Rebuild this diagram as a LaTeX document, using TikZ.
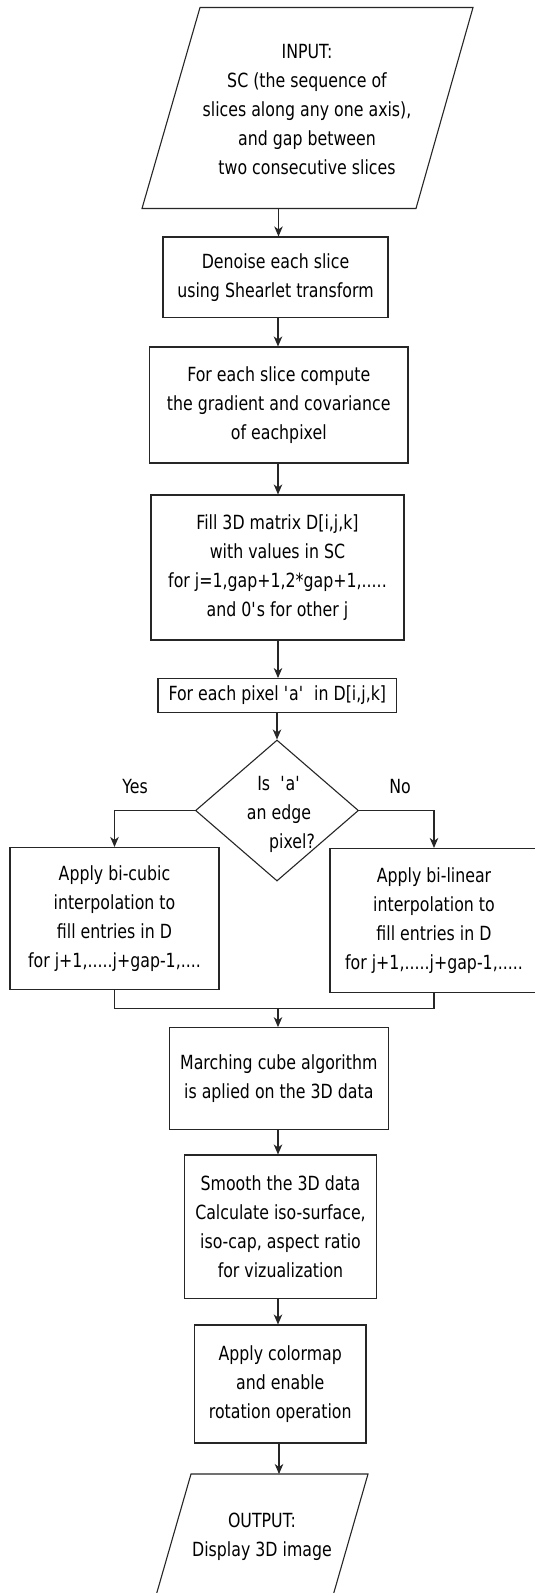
\documentclass[tikz,border=0pt]{standalone}
\usepackage{fontspec}
\setmainfont{DejaVu Sans}[FakeStretch=0.81]
\usetikzlibrary{shapes.geometric,arrows.meta,calc}
\begin{document}
\begin{tikzpicture}[x=1pt,y=-1pt,
  every node/.style={font=\fontsize{19.5}{29}\selectfont, text=black},
  box/.style={draw=black!85, line width=1.1pt, inner sep=0pt, align=center, rectangle},
  conn/.style={draw=black!85, line width=1.1pt},
  arr/.style={conn, -{Stealth[length=10pt,width=8.5pt,inset=3pt]}},
  txt/.style={align=center, inner sep=0pt}]
\path[use as bounding box] (0,0) rectangle (535,1593);
\clip (0,0) rectangle (535,1593);
\fill[white] (0,0) rectangle (535,1593);

% input parallelogram
\draw[conn] (200,7.5) -- (473,7.5) -- (416,208.5) -- (142,208.5) -- cycle;
\node[txt] (in) at (307,110) {INPUT:\\SC (the sequence of\\slices along any one axis),\\and gap between\\two consecutive slices};
\coordinate (inB) at (278.5,208.5);

\node[box, minimum width=225pt, minimum height=80.5pt] (b2) at (275.5,277.25) {Denoise each slice\\using Shearlet transform};
\node[box, minimum width=258.5pt, minimum height=116pt] (b3) at (278.75,405) {For each slice compute\\the gradient and covariance\\of eachpixel};
\node[box, minimum width=253pt, minimum height=145pt] (b4) at (277.5,567.5) {Fill 3D matrix D[i,j,k]\\with values in SC\\for j=1,gap+1,2*gap+1,.....\\and 0\textquotesingle s for other j};
\node[box, minimum width=238.6pt, minimum height=33.8pt] (b5) at (277.3,695.5) {For each pixel \textquotesingle a\textquotesingle\ \ in D[i,j,k]};

\node[diamond, draw=black!85, line width=1.1pt, minimum width=163pt, minimum height=141pt, inner sep=0pt] (dec) at (277,810.5) {};
\node[txt] (dect) at (279,814.5) {Is\ \ \textquotesingle a\textquotesingle\\an edge\\\hspace*{26pt}pixel?};
\node[txt] (yes) at (135,787) {Yes};
\node[txt] (no) at (400,787) {No};

\node[box, minimum width=209pt, minimum height=142pt] (lb) at (114.5,918.5) {Apply bi-cubic\\interpolation to\\fill entries in D\\for j+1,.....j+gap-1,....};
\node[box, minimum width=208pt, minimum height=144.2pt] (rb) at (434,920.6) {Apply bi-linear\\interpolation to\\fill entries in D\\for j+1,.....j+gap-1,.....};

\node[box, minimum width=219pt, minimum height=101.6pt] (mc) at (278.8,1078.5) {Marching cube algorithm\\is aplied on the 3D data};
\node[box, minimum width=192.4pt, minimum height=143.3pt] (sm) at (280.5,1226.65) {Smooth the 3D data\\Calculate iso-surface,\\iso-cap, aspect ratio\\for vizualization};
\node[box, minimum width=171.5pt, minimum height=118pt] (cm) at (280.25,1384) {Apply colormap\\and enable\\rotation operation};

% output parallelogram
\draw[conn] (191,1474) -- (368,1474) -- (326,1620) -- (149,1620) -- cycle;
\node[txt] (out) at (262,1537) {OUTPUT:\\Display 3D image};
\coordinate (outT) at (279,1474);

\coordinate (sp) at (278,0);
\coordinate (merge) at (278,1008.5);

\draw[arr] (inB) -- (inB |- b2.north);
\draw[arr] (b2.south -| sp) -- (b3.north -| sp);
\draw[arr] (b3.south -| sp) -- (b4.north -| sp);
\draw[arr] (b4.south -| sp) -- (b5.north -| sp);
\draw[arr] (b5.south -| dec.north) -- (dec.north);
\draw[arr] (dec.west) -| (lb.north);
\draw[arr] (dec.east) -| (rb.north);
\draw[conn] (lb.south) |- (merge);
\draw[conn] (rb.south) |- (merge);
\draw[arr] (merge) -- (mc.north -| merge);
\draw[arr] (mc.south -| sp) -- (sm.north -| sp);
\draw[arr] (sm.south -| sp) -- (cm.north -| sp);
\draw[arr] (cm.south -| outT) -- (outT);
\end{tikzpicture}
\end{document}
